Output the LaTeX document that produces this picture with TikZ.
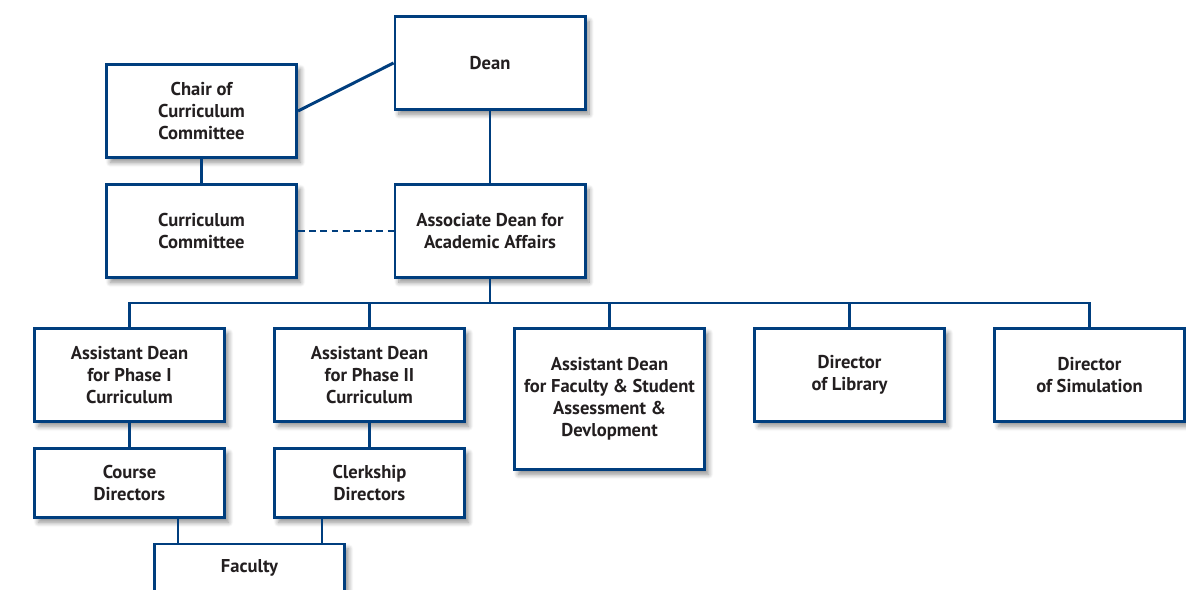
\documentclass[tikz,border=0pt]{standalone}
\usepackage{fontspec}
\setmainfont{PT Sans}
\usetikzlibrary{shadows.blur}
\definecolor{orgblue}{HTML}{003E7E}
\definecolor{orgtext}{HTML}{231F20}
\tikzset{
  unit/.style={draw=orgblue, line width=2.1pt, fill=white, inner sep=0pt,
    minimum width=4.75cm, minimum height=2.325cm, align=center, text=orgtext,
    font=\bfseries\fontsize{13.2}{15.6}\selectfont,
    blur shadow={shadow xshift=0.1cm, shadow yshift=-0.12cm, shadow blur radius=0.12cm,
      shadow blur steps=8, shadow opacity=45}},
  short/.style={minimum height=1.725cm},
  tall/.style={minimum height=3.525cm},
  link/.style={draw=orgblue, line width=2.1pt},
}
\begin{document}
\begin{tikzpicture}[x=0.025cm, y=-0.025cm]
\useasboundingbox (0,0) rectangle (1186,590);
% top
\node[unit] (dean) at (490,63) {Dean};
\node[unit] (chair) at (201.5,111) {Chair of\\Curriculum\\Committee};
\node[unit] (committee) at (201.5,231) {Curriculum\\Committee};
\node[unit] (assoc) at (490,231) {Associate Dean for\\Academic Affairs};
\draw[link] (chair.east) -- (dean.west);
\draw[link] (dean.south) -- (assoc.north);
\draw[link] (chair.south) -- (committee.north);
\draw[link, dash pattern=on 0.17cm off 0.11cm] (committee.east) -- (assoc.west);
% second row
\node[unit] (phaseone) at (129.5,375) {Assistant Dean\\for Phase I\\Curriculum};
\node[unit] (phasetwo) at (369.5,375) {Assistant Dean\\for Phase II\\Curriculum};
\node[unit, tall] (assess) at (609.5,399) {Assistant Dean\\for Faculty \& Student\\Assessment \&\\Devlopment};
\node[unit] (library) at (849.5,375) {Director\\of Library};
\node[unit] (simulation) at (1089.5,375) {Director\\of Simulation};
\coordinate (bus) at (490,303);
\draw[link] (assoc.south) -- (bus);
\draw[link] (phaseone.north) -- (phaseone.north |- bus) -- (simulation.north |- bus) -- (simulation.north);
\foreach \n in {phasetwo, assess, library}
  \draw[link] (\n.north |- bus) -- (\n.north);
% lower rows
\node[unit, short] (course) at (129.5,483) {Course\\Directors};
\node[unit, short] (clerkship) at (369.5,483) {Clerkship\\Directors};
\node[unit, minimum height=1.2cm] (faculty) at (249.5,568) {Faculty};
\draw[link] (phaseone.south) -- (course.north);
\draw[link] (phasetwo.south) -- (clerkship.north);
\coordinate (facl) at ([xshift=0.625cm]faculty.north west);
\coordinate (facr) at ([xshift=-0.6cm]faculty.north east);
\draw[link] (facl |- course.south) -- (facl);
\draw[link] (facr |- clerkship.south) -- (facr);
\end{tikzpicture}
\end{document}
